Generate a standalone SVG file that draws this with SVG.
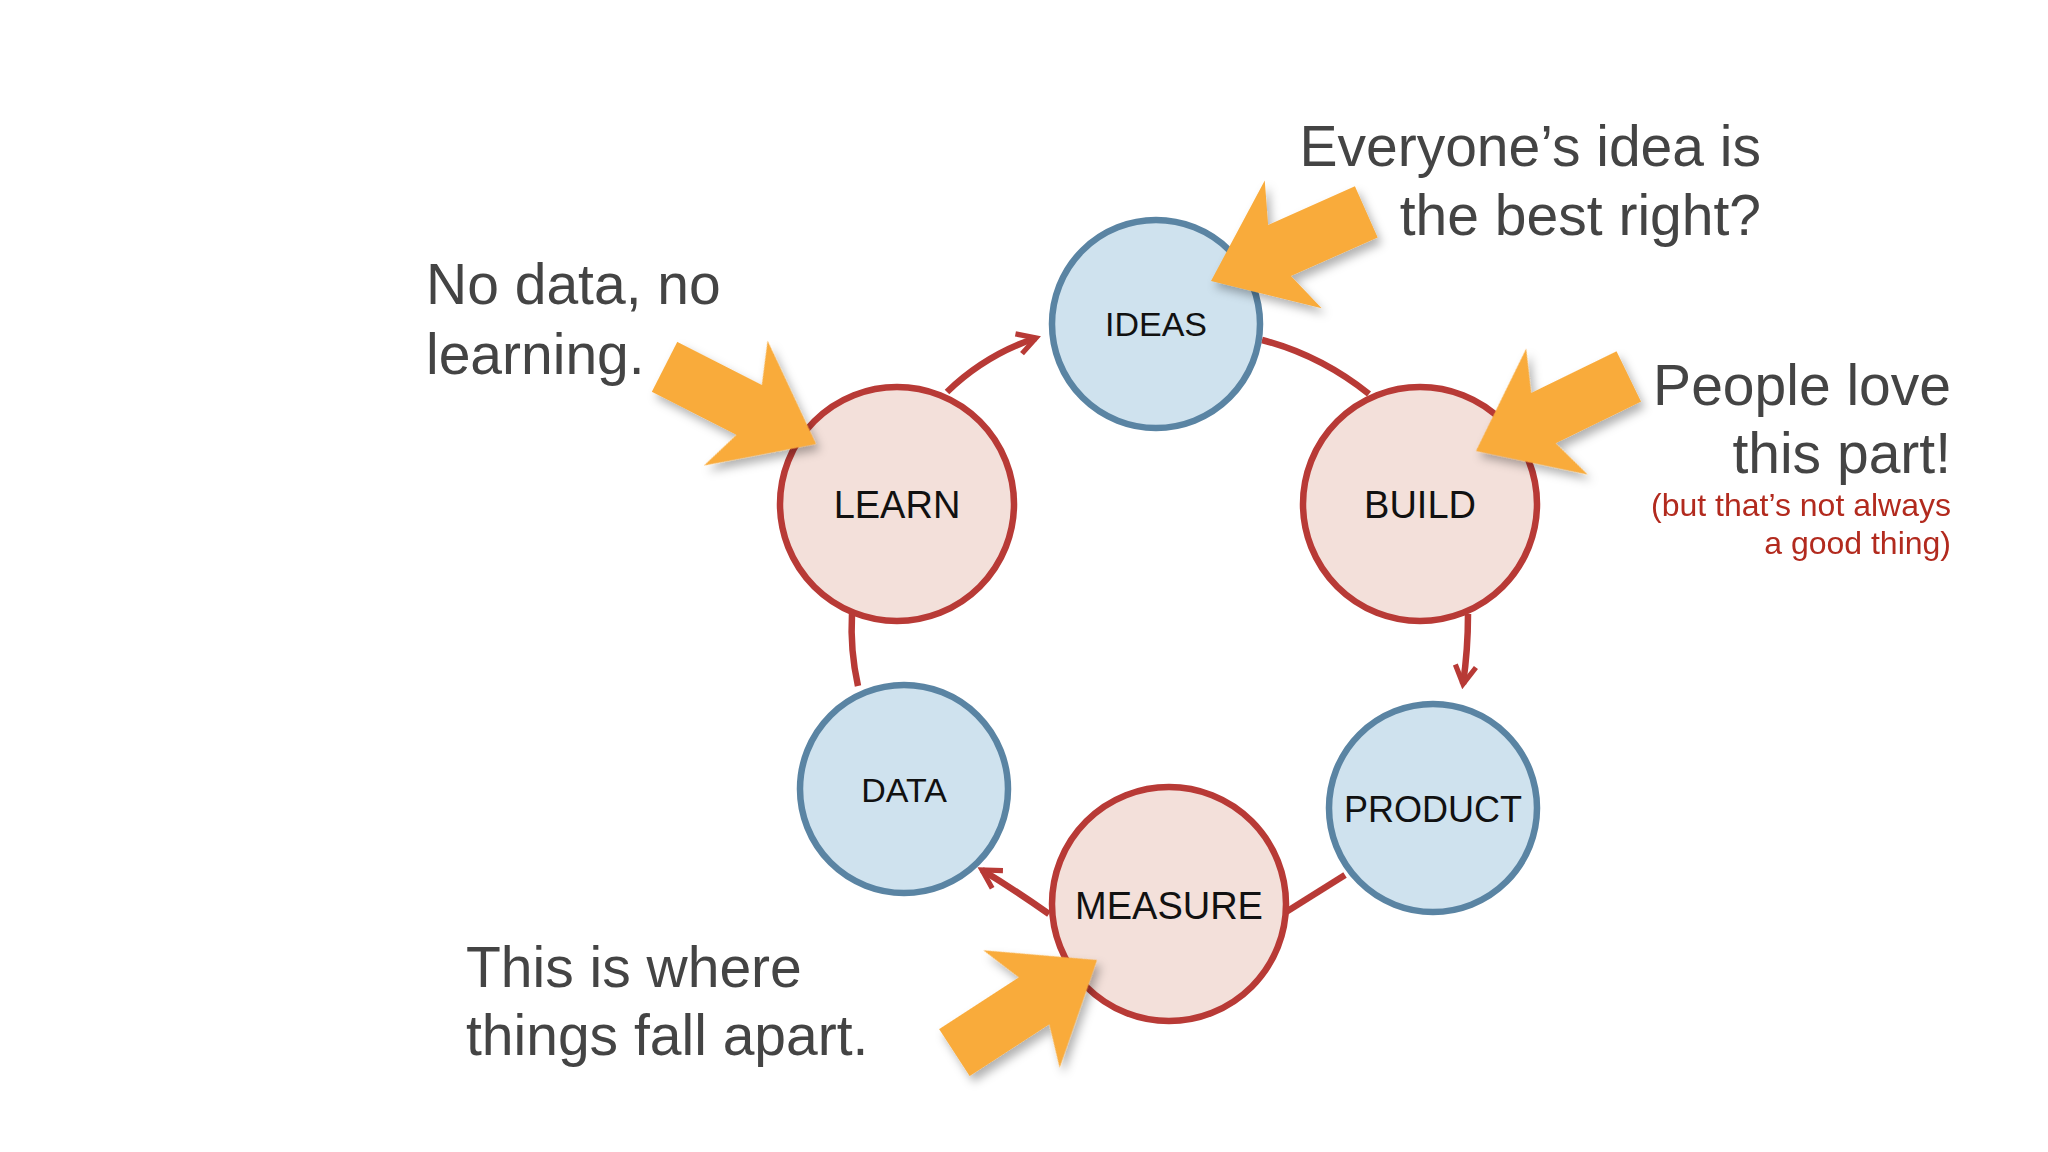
<svg xmlns="http://www.w3.org/2000/svg" width="2048" height="1152" viewBox="0 0 2048 1152">
<defs>
<style>
.b{fill:#cfe2ee;stroke:#5a84a3;stroke-width:6.5}
.r{fill:#f3e0da;stroke:#b83a36;stroke-width:6.5}
.lbl{font-family:"Liberation Sans",Arial,sans-serif;fill:#111;text-anchor:middle}
.t{font-family:"Liberation Sans",Arial,sans-serif;fill:#444;font-size:57px}
.s{font-family:"Liberation Sans",Arial,sans-serif;fill:#b22a1e;font-size:32px;text-anchor:end}
.c{fill:none;stroke:#b83a36;stroke-width:6.5}
.oa{fill:#f9ab3b}
</style>
<marker id="ah" viewBox="0 0 10 10" refX="8" refY="5" markerWidth="4" markerHeight="4" orient="auto" markerUnits="strokeWidth">
<path d="M1,1 L8,5 L1,9" fill="none" stroke="#b83a36" stroke-width="2"/>
</marker>
<filter id="sh" x="-30%" y="-30%" width="160%" height="160%"><feDropShadow dx="4" dy="6" stdDeviation="5" flood-color="#000" flood-opacity="0.3"/></filter>
<polygon id="arr" points="0,0 -90,-70 -75,-28 -170,-28 -170,28 -75,28 -90,70"/>
</defs>
<rect width="2048" height="1152" fill="#fff"/>
<g id="connectors">
<path class="c" d="M947,392 Q985,355 1036,338" marker-end="url(#ah)"/>
<path class="c" d="M1262,340 Q1320,355 1369,394"/>
<path class="c" d="M1468,614 Q1468,650 1463,684" marker-end="url(#ah)"/>
<path class="c" d="M1345,875 L1286,912"/>
<path class="c" d="M1049,914 Q1015,890 982,870" marker-end="url(#ah)"/>
<path class="c" d="M858,686 Q850,650 852,614"/>
</g>
<g id="ideas"><circle class="b" cx="1156" cy="324" r="104"/><text class="lbl" x="1156" y="336" font-size="34">IDEAS</text></g>
<g id="learn"><circle class="r" cx="897" cy="504" r="117"/><text class="lbl" x="897" y="518" font-size="38">LEARN</text></g>
<g id="build"><circle class="r" cx="1420" cy="504" r="117"/><text class="lbl" x="1420" y="518" font-size="38">BUILD</text></g>
<g id="data"><circle class="b" cx="904" cy="789" r="104"/><text class="lbl" x="904" y="802" font-size="34">DATA</text></g>
<g id="product"><circle class="b" cx="1433" cy="808" r="104"/><text class="lbl" x="1433" y="822" font-size="36">PRODUCT</text></g>
<g id="measure"><circle class="r" cx="1169" cy="904" r="117"/><text class="lbl" x="1169" y="919" font-size="38">MEASURE</text></g>
<g id="orange-arrows" filter="url(#sh)">
<use href="#arr" class="oa" transform="translate(1211,281) rotate(156)"/>
<use href="#arr" class="oa" transform="translate(1476,451) rotate(154)"/>
<use href="#arr" class="oa" transform="translate(816,444) rotate(27)"/>
<use href="#arr" class="oa" transform="translate(1097,960) rotate(-33)"/>
</g>
<g id="notes">
<text class="t" x="1761" y="166" text-anchor="end">Everyone’s idea is</text>
<text class="t" x="1761" y="235" text-anchor="end">the best right?</text>
<text class="t" x="426" y="304">No data, no</text>
<text class="t" x="426" y="374">learning.</text>
<text class="t" x="1951" y="405" text-anchor="end">People love</text>
<text class="t" x="1951" y="473" text-anchor="end">this part!</text>
<text class="s" x="1951" y="516">(but that’s not always</text>
<text class="s" x="1951" y="554">a good thing)</text>
<text class="t" x="466" y="987">This is where</text>
<text class="t" x="466" y="1055">things fall apart.</text>
</g>
</svg>
